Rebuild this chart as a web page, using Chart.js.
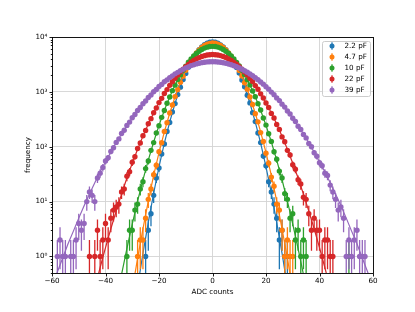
<!DOCTYPE html>
<html>
<head>
<meta charset="utf-8">
<script src="https://cdn.jsdelivr.net/npm/chart.js@4.4.1/dist/chart.umd.min.js"></script>
<style>
  html, body { margin: 0; padding: 0; background: #fff; }
  #wrap { width: 415px; height: 312px; }
</style>
</head>
<body>
<div id="wrap"><canvas id="adcChart"></canvas></div>
<script>
// capacitances and colours
const labels = ['2.2 pF', '4.7 pF', '10 pF', '22 pF', '39 pF'];
const colors = ['#1f77b4', '#ff7f0e', '#2ca02c', '#d62728', '#9467bd'];

// axis ticks
const xTicks = [-60, -40, -20, 0, 20, 40, 60];
const yTicks = [1, 10, 100, 1000, 10000];

// histograms: one value per integer ADC bin, starting at firstBin
const firstBin = [-25, -28, -32, -46, -58];

const counts2p2 = [1, 3, 6, 13, 27, 41, 74, 112, 189, 276,
  431, 611, 892, 1219, 1675, 2170, 2822, 3496, 4290, 5050,
  5870, 6570, 7240, 7690, 8040, 8110,
  8010, 7730, 7200, 6610, 5840, 5080, 4250, 3530, 2790, 2200,
  1650, 1240, 870, 630, 418, 287, 178, 119, 68, 45,
  23, 15, 9, 5, 2, 3, 1, 1];

const counts4p7 = [1, 2, 2, 5, 11, 17, 31, 46, 81, 118,
  190, 275, 412, 578, 820, 1100, 1490, 1920, 2470, 3040,
  3730, 4400, 5140, 5800, 6470, 6980, 7430, 7660, 7770,
  7690, 7400, 7010, 6440, 5830, 5110, 4430, 3700, 3070, 2440,
  1940, 1470, 1120, 805, 590, 401, 284, 181, 125, 76,
  50, 28, 19, 9, 7, 3, 1, 2, 1, 1];

const counts10 = [1, 3, 3, 7, 9, 17, 23, 40, 55, 86,
  119, 178, 241, 343, 457, 620, 806, 1052, 1325, 1672,
  2040, 2490, 2940, 3460, 3970, 4510, 5010, 5500, 5910, 6280,
  6530, 6710, 6760,
  6700, 6550, 6270, 5930, 5490, 5020, 4500, 3980, 3450, 2960,
  2470, 2060, 1660, 1340, 1040, 815, 610, 466, 335, 248,
  172, 125, 81, 59, 36, 27, 14, 11, 5, 6,
  2, 3, 1, 2, 1,
  null, null, null, null, null, null, null, null, null, null, null, null, null, null, null,
  1];

const counts22 = [1, null, 1, 3, 1, 2, 4, 2, 5, 7,
  8, 9, 15, 17, 29, 35, 52, 66, 93, 117,
  159, 198, 262, 325, 416, 508, 637, 762, 934, 1100,
  1315, 1525, 1780, 2030, 2315, 2585, 2890, 3170, 3470, 3730,
  3995, 4210, 4420, 4570, 4695, 4755, 4790,
  4760, 4685, 4580, 4405, 4225, 3980, 3740, 3455, 3180, 2875,
  2600, 2300, 2040, 1765, 1540, 1300, 1115, 920, 775, 625,
  518, 405, 333, 254, 207, 151, 123, 86, 71, 47,
  39, 25, 21, 12, 11, 6, 3, 5, 3, 3,
  1, 2, 2, 1, 1];

const counts39 = [1, 2, 1, 1, null, 1, 1, 2, 4, 3,
  4, 10, 15, 13, 10, 27, 33, 42, 55, 63,
  82, 96, 120, 139, 174, 200, 245, 281, 338, 386,
  458, 519, 608, 681, 790, 878, 1005, 1108, 1250, 1368,
  1525, 1652, 1820, 1958, 2130, 2270, 2440, 2575, 2740, 2860,
  3010, 3110, 3235, 3315, 3410, 3460, 3520, 3535, 3550,
  3540, 3505, 3470, 3395, 3330, 3220, 3125, 2990, 2875, 2720,
  2590, 2425, 2285, 2115, 1972, 1805, 1668, 1510, 1382, 1236,
  1120, 990, 890, 776, 693, 597, 528, 449, 394, 330,
  289, 237, 206, 168, 145, 115, 100, 78, 67, 51,
  45, 33, 30, 20, 15, 11, 7, 8, 5, 1,
  2, 1, 2, 3, 1, 1, 1];

// gaussian fits, sampled every 2 ADC counts starting at fitStart
const fitStart = [-30, -32, -38, -48, -60];

const fit2p2 = [0.06, 0.28, 1.14, 4.2, 14.2, 43, 116, 282, 620, 1228, 2188, 3510, 5068, 6588, 7715,
  8128,
  7715, 6588, 5068, 3510, 2188, 1228, 620, 282, 116, 43, 14.2, 4.2, 1.14, 0.28, 0.06];

const fit4p7 = [0.059, 0.245, 0.93, 3.2, 10.2, 30, 78, 186, 407, 813, 1479, 2455, 3715, 5129, 6457, 7413,
  7762,
  7413, 6457, 5129, 3715, 2455, 1479, 813, 407, 186, 78, 30, 10.2, 3.2, 0.93, 0.245, 0.059];

const fit10 = [0.043, 0.146, 0.47, 1.39, 3.9, 10.2, 25, 57, 122, 245, 461, 810, 1331, 2049, 2951, 3977, 5017, 5920, 6540,
  6761,
  6540, 5920, 5017, 3977, 2951, 2049, 1331, 810, 461, 245, 122, 57, 25, 10.2, 3.9, 1.39, 0.47, 0.146, 0.043];

const fit22 = [0.041, 0.106, 0.26, 0.63, 1.45, 3.2, 6.7, 13.7, 27, 50, 90, 156, 259, 412, 631, 927, 1309, 1774, 2308, 2884, 3462, 3989, 4413, 4690,
  4786,
  4690, 4413, 3989, 3462, 2884, 2308, 1774, 1309, 927, 631, 412, 259, 156, 90, 50, 27, 13.7, 6.7, 3.2, 1.45, 0.63, 0.26, 0.106, 0.041];

const fit39 = [0.28, 0.52, 0.94, 1.7, 2.9, 5.0, 8.4, 13.7, 22, 35, 53, 80, 118, 171, 241, 334, 453, 602, 782, 996, 1242, 1516, 1812, 2121, 2431, 2729, 2999, 3228, 3402, 3512,
  3548,
  3512, 3402, 3228, 2999, 2729, 2431, 2121, 1812, 1516, 1242, 996, 782, 602, 453, 334, 241, 171, 118, 80, 53, 35, 22, 13.7, 8.4, 5.0, 2.9, 1.7, 0.94, 0.52, 0.28];

const series = [counts2p2, counts4p7, counts10, counts22, counts39];
const fits = [fit2p2, fit4p7, fit10, fit22, fit39];

function toPoints(values, start, step) {
    return values.map((v, i) => ({ x: start + i * step, y: v }));
}

const datasets = [];
series.forEach((vals, s) => {
    datasets.push({
        label: labels[s],
        data: toPoints(vals, firstBin[s], 1),
        showLine: false,
        pointRadius: 2.7,
        pointHoverRadius: 2.7,
        pointBorderWidth: 0,
        pointBackgroundColor: colors[s],
        borderColor: colors[s],
        backgroundColor: colors[s],
        errorBars: true,
        order: (4 - s) * 2 + 1
    });
    datasets.push({
        label: labels[s] + ' fit',
        data: toPoints(fits[s], fitStart[s], 2),
        showLine: true,
        pointRadius: 0,
        borderWidth: 1.2,
        borderColor: colors[s],
        order: (4 - s) * 2
    });
});

// sqrt(N) error bars drawn under each series' markers
const errorBars = {
    id: 'errorBars',
    beforeDatasetDraw(chart, args) {
        const ds = chart.data.datasets[args.index];
        if (!ds.errorBars) return;
        const ctx = chart.ctx, a = chart.chartArea;
        const xs = chart.scales.x, ys = chart.scales.y;
        ctx.save();
        ctx.beginPath();
        ctx.rect(a.left, a.top, a.right - a.left, a.bottom - a.top);
        ctx.clip();
        ctx.strokeStyle = ds.borderColor;
        ctx.lineWidth = 1.3;
        ctx.beginPath();
        ds.data.forEach(p => {
            if (p.y == null) return;
            const err = Math.sqrt(p.y);
            const px = xs.getPixelForValue(p.x);
            const lo = p.y - err > 0 ? ys.getPixelForValue(p.y - err) : a.bottom + 5;
            ctx.moveTo(px, lo);
            ctx.lineTo(px, ys.getPixelForValue(p.y + err));
        });
        ctx.stroke();
        ctx.restore();
    }
};

// matplotlib style frame and tick marks
const frame = {
    id: 'frame',
    afterDatasetsDraw(chart) {
        const ctx = chart.ctx, a = chart.chartArea;
        const xs = chart.scales.x, ys = chart.scales.y;
        const L = Math.round(a.left) + 0.5, R = Math.round(a.right) + 0.5;
        const T = Math.round(a.top) + 0.5, B = Math.round(a.bottom) + 0.5;
        ctx.save();
        ctx.strokeStyle = '#000';
        ctx.lineWidth = 0.9;
        ctx.beginPath();
        xTicks.forEach(v => {
            const px = Math.round(xs.getPixelForValue(v)) + 0.5;
            ctx.moveTo(px, B);
            ctx.lineTo(px, B + 3);
        });
        yTicks.forEach(v => {
            const py = Math.round(ys.getPixelForValue(v)) + 0.5;
            ctx.moveTo(L, py);
            ctx.lineTo(L - 3, py);
        });
        for (let d = 0.1; d < 10000; d *= 10) {
            for (let m = 2; m <= 9; m++) {
                const v = d * m;
                if (v < ys.min || v > ys.max) continue;
                const py = Math.round(ys.getPixelForValue(v)) + 0.5;
                ctx.moveTo(L, py);
                ctx.lineTo(L - 1.7, py);
            }
        }
        ctx.stroke();
        ctx.strokeRect(L, T, R - L, B - T);
        ctx.restore();
    }
};

const boxLegend = {
    id: 'boxLegend',
    afterDraw(chart) {
        const ctx = chart.ctx, a = chart.chartArea;
        const left = a.right - 50.5, top = a.top + 4.5;
        ctx.save();
        ctx.fillStyle = 'rgba(255,255,255,0.8)';
        ctx.strokeStyle = '#cccccc';
        ctx.lineWidth = 1;
        ctx.beginPath();
        ctx.roundRect(left, top, 48, 55, 2);
        ctx.fill();
        ctx.stroke();
        ctx.font = '7.2px "DejaVu Sans"';
        ctx.textBaseline = 'middle';
        labels.forEach((lab, i) => {
            const y = top + 4.5 + i * 11;
            const mx = left + 9.5;
            ctx.strokeStyle = colors[i];
            ctx.lineWidth = 1.2;
            ctx.beginPath();
            ctx.moveTo(mx, y - 3.7);
            ctx.lineTo(mx, y + 3.7);
            ctx.stroke();
            ctx.fillStyle = colors[i];
            ctx.beginPath();
            ctx.arc(mx, y, 2.5, 0, Math.PI * 2);
            ctx.fill();
            ctx.fillStyle = '#000';
            ctx.fillText(lab, left + 22, y + 0.5);
        });
        ctx.restore();
    }
};

const sup = { '0': '\u2070', '1': '\u00b9', '2': '\u00b2', '3': '\u00b3', '4': '\u2074' };

Chart.defaults.font.family = '"DejaVu Sans", sans-serif';
Chart.defaults.font.size = 7.2;
Chart.defaults.color = '#000';

let ctx = document.getElementById('adcChart').getContext('2d');
let adcChart = new Chart(ctx, {
    type: 'scatter',
    data: { datasets: datasets },
    plugins: [errorBars, frame, boxLegend],
    options: {
        responsive: true,
        maintainAspectRatio: false,
        animation: false,
        layout: { padding: { top: 37, right: 42, left: 0, bottom: 0 } },
        plugins: {
            legend: { display: false },
            tooltip: { enabled: false }
        },
        scales: {
            x: {
                type: 'linear',
                min: -60,
                max: 60,
                afterBuildTicks: (scale) => { scale.ticks = xTicks.map(v => ({ value: v })); },
                afterFit: (scale) => { scale.height = 39; },
                grid: { color: '#d4d4d4', lineWidth: 0.9, drawTicks: false },
                border: { display: false },
                ticks: {
                    padding: 4,
                    maxRotation: 0,
                    autoSkip: false,
                    callback: (v) => v < 0 ? '\u2212' + Math.abs(v) : String(v)
                },
                title: { display: true, text: 'ADC counts', padding: { top: 0, bottom: 15.5 } }
            },
            y: {
                type: 'logarithmic',
                min: 0.5,
                max: 10000,
                afterBuildTicks: (scale) => { scale.ticks = yTicks.map(v => ({ value: v })); },
                afterFit: (scale) => { scale.width = 52; },
                grid: { color: '#d4d4d4', lineWidth: 0.9, drawTicks: false },
                border: { display: false },
                ticks: {
                    padding: 4.5,
                    autoSkip: false,
                    callback: (v) => '10' + sup[String(Math.round(Math.log10(v)))]
                },
                title: { display: true, text: 'frequency', padding: { top: 24, bottom: 0 } }
            }
        }
    }
});
</script>
</body>
</html>
